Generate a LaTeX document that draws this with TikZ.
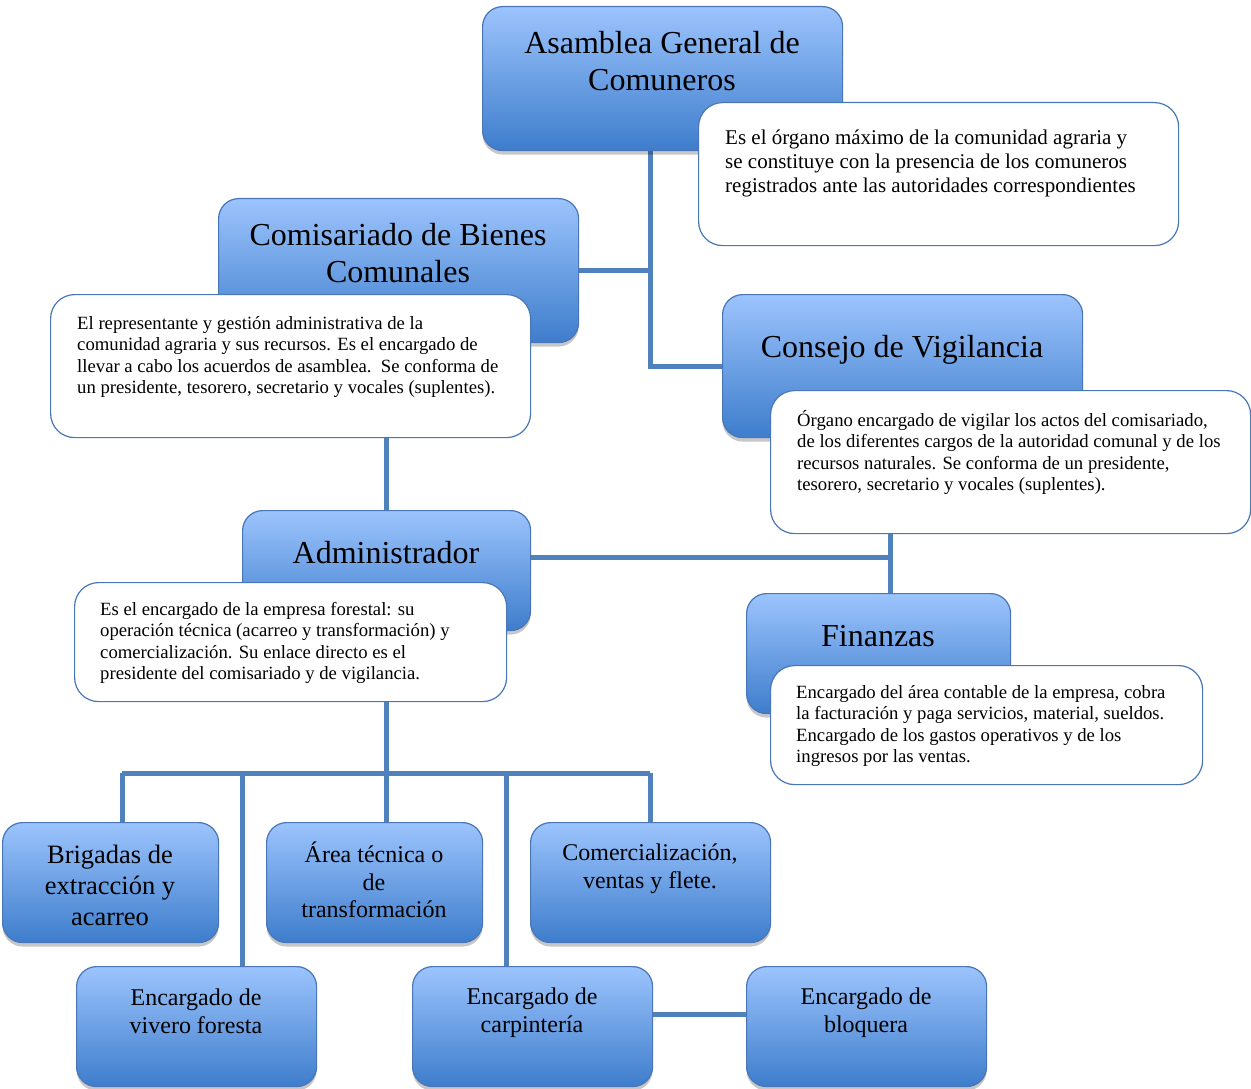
\documentclass[tikz,border=0pt]{standalone}
\usepackage{fontspec}
\setmainfont{Liberation Serif}
\usetikzlibrary{shadows,backgrounds}
\definecolor{boxtop}{RGB}{156,196,253}
\definecolor{boxbot}{RGB}{62,125,204}
\definecolor{boxborder}{RGB}{72,118,184}
\definecolor{linkcol}{RGB}{79,129,189}
\tikzset{
  bluebox/.style={draw=boxborder, line width=1.2pt, rounded corners=20pt, top color=boxtop, bottom color=boxbot,
    inner sep=0pt, anchor=north west, drop shadow={shadow xshift=0pt, shadow yshift=-4pt, opacity=0.22, fill=black}},
  descbox/.style={draw=boxborder, line width=1.2pt, rounded corners=24pt, fill=white, inner sep=0pt, anchor=north west},
  titletext/.style={font=\rmfamily\fontsize{32}{37}\selectfont, align=center, inner sep=0pt},
  smalltitle/.style={font=\rmfamily\fontsize{24}{28}\selectfont, align=center, inner sep=0pt},
  desctext/.style={font=\rmfamily\fontsize{18.7}{21.5}\selectfont, align=left, inner sep=0pt, anchor=north west},
  link/.style={draw=linkcol, line width=5pt}
}
\begin{document}
\begin{tikzpicture}[x=1pt,y=-1pt]
\useasboundingbox (0,0) rectangle (1251,1089);
% top
\node[bluebox, minimum width=360pt, minimum height=144pt] (asam) at (482,6) {};
\node[titletext] (asamt) at (662,61) {Asamblea General de\\Comuneros};
\node[descbox, minimum width=480pt, minimum height=143pt] (asamd) at (698,102) {};
\node[desctext, font=\rmfamily\fontsize{21}{24}\selectfont] (asamdt) at (725,130) {Es el órgano máximo de la comunidad agraria y\\se constituye con la presencia de los comuneros\\registrados ante las autoridades correspondientes};
% comisariado
\node[bluebox, minimum width=360pt, minimum height=144pt] (comi) at (218,198) {};
\node[titletext] (comit) at (398,253) {Comisariado de Bienes\\Comunales};
\node[descbox, minimum width=480pt, minimum height=143pt] (comid) at (50,294) {};
\node[desctext] (comidt) at (77,316) {El representante y gestión administrativa de la\\comunidad agraria y sus recursos. Es el encargado de\\llevar a cabo los acuerdos de asamblea.\ \ Se conforma de\\un presidente, tesorero, secretario y vocales (suplentes).};
% consejo
\node[bluebox, minimum width=360pt, minimum height=143pt] (cons) at (722,294) {};
\node[titletext] (const) at (902,350) {Consejo de Vigilancia};
\node[descbox, minimum width=480pt, minimum height=143pt] (consd) at (770,390) {};
\node[desctext] (consdt) at (797,410) {Órgano encargado de vigilar los actos del comisariado,\\de los diferentes cargos de la autoridad comunal y de los\\recursos naturales. Se conforma de un presidente,\\tesorero, secretario y vocales (suplentes).};
% administrador
\node[bluebox, minimum width=288pt, minimum height=120pt] (admin) at (242,510) {};
\node[titletext] (admint) at (386,553) {Administrador};
\node[descbox, minimum width=432pt, minimum height=119pt] (admind) at (74,582) {};
\node[desctext] (admindt) at (100,602) {Es el encargado de la empresa forestal: su\\operación técnica (acarreo y transformación) y\\comercialización. Su enlace directo es el\\presidente del comisariado y de vigilancia.};
% finanzas
\node[bluebox, minimum width=264pt, minimum height=120pt] (fin) at (746,593) {};
\node[titletext] (fint) at (878,636) {Finanzas};
\node[descbox, minimum width=432pt, minimum height=119pt] (find) at (770,665) {};
\node[desctext] (findt) at (796,685) {Encargado del área contable de la empresa, cobra\\la facturación y paga servicios, material, sueldos.\\Encargado de los gastos operativos y de los\\ingresos por las ventas.};
% bottom row
\node[bluebox, minimum width=216pt, minimum height=120pt] (brig) at (2,822) {};
\node[smalltitle, font=\rmfamily\fontsize{26.5}{31}\selectfont] (brigt) at (110,885) {Brigadas de\\extracción y\\acarreo};
\node[bluebox, minimum width=216pt, minimum height=120pt] (area) at (266,822) {};
\node[smalltitle, font=\rmfamily\fontsize{24}{27.5}\selectfont] (areat) at (374,880) {Área técnica o\\de\\transformación};
\node[bluebox, minimum width=240pt, minimum height=120pt] (come) at (530,822) {};
\node[smalltitle] (comet) at (650,869) {Comercialización,\\ventas y flete.};
\node[bluebox, minimum width=240pt, minimum height=120pt] (viv) at (76,966) {};
\node[smalltitle] (vivt) at (196,1011) {Encargado de\\vivero foresta};
\node[bluebox, minimum width=240pt, minimum height=120pt] (carp) at (412,966) {};
\node[smalltitle] (carpt) at (532,1013) {Encargado de\\carpintería};
\node[bluebox, minimum width=240pt, minimum height=120pt] (bloq) at (746,966) {};
\node[smalltitle] (bloqt) at (866,1013) {Encargado de\\bloquera};
% junctions
\coordinate (j0) at (650,270);
\coordinate (j1) at (650,366);
\coordinate (j2) at (890,557);
\coordinate (bar) at (386,773);
\coordinate (bl) at (122,773);
\coordinate (bv) at (242,773);
\coordinate (bc) at (506,773);
\coordinate (br) at (650,773);
\coordinate (jb) at (700,1014);
\begin{pgfonlayer}{background}
\fill[white] (0,0) rectangle (1251,1089);
\draw[link] (asam.south -| j1) -- (j1) -- (j1 -| cons.west);
\draw[link] (comi.east |- j0) -- (j0);
\draw[link] (admin.north) -- (admin.north |- comid.south);
\draw[link] (admin.east |- j2) -- (j2);
\draw[link] (consd.south -| j2) -- (fin.north -| j2);
\draw[link] (admind.south -| bar) -- (bar);
\draw[link] (bl) -- (br);
\draw[link] (bl) -- (bl |- brig.north);
\draw[link] (bv) -- (bv |- viv.north);
\draw[link] (bar) -- (bar |- area.north);
\draw[link] (bc) -- (bc |- carp.north);
\draw[link] (br) -- (br |- come.north);
\draw[link] (carp.east |- jb) -- (bloq.west |- jb);
\end{pgfonlayer}
\end{tikzpicture}
\end{document}
